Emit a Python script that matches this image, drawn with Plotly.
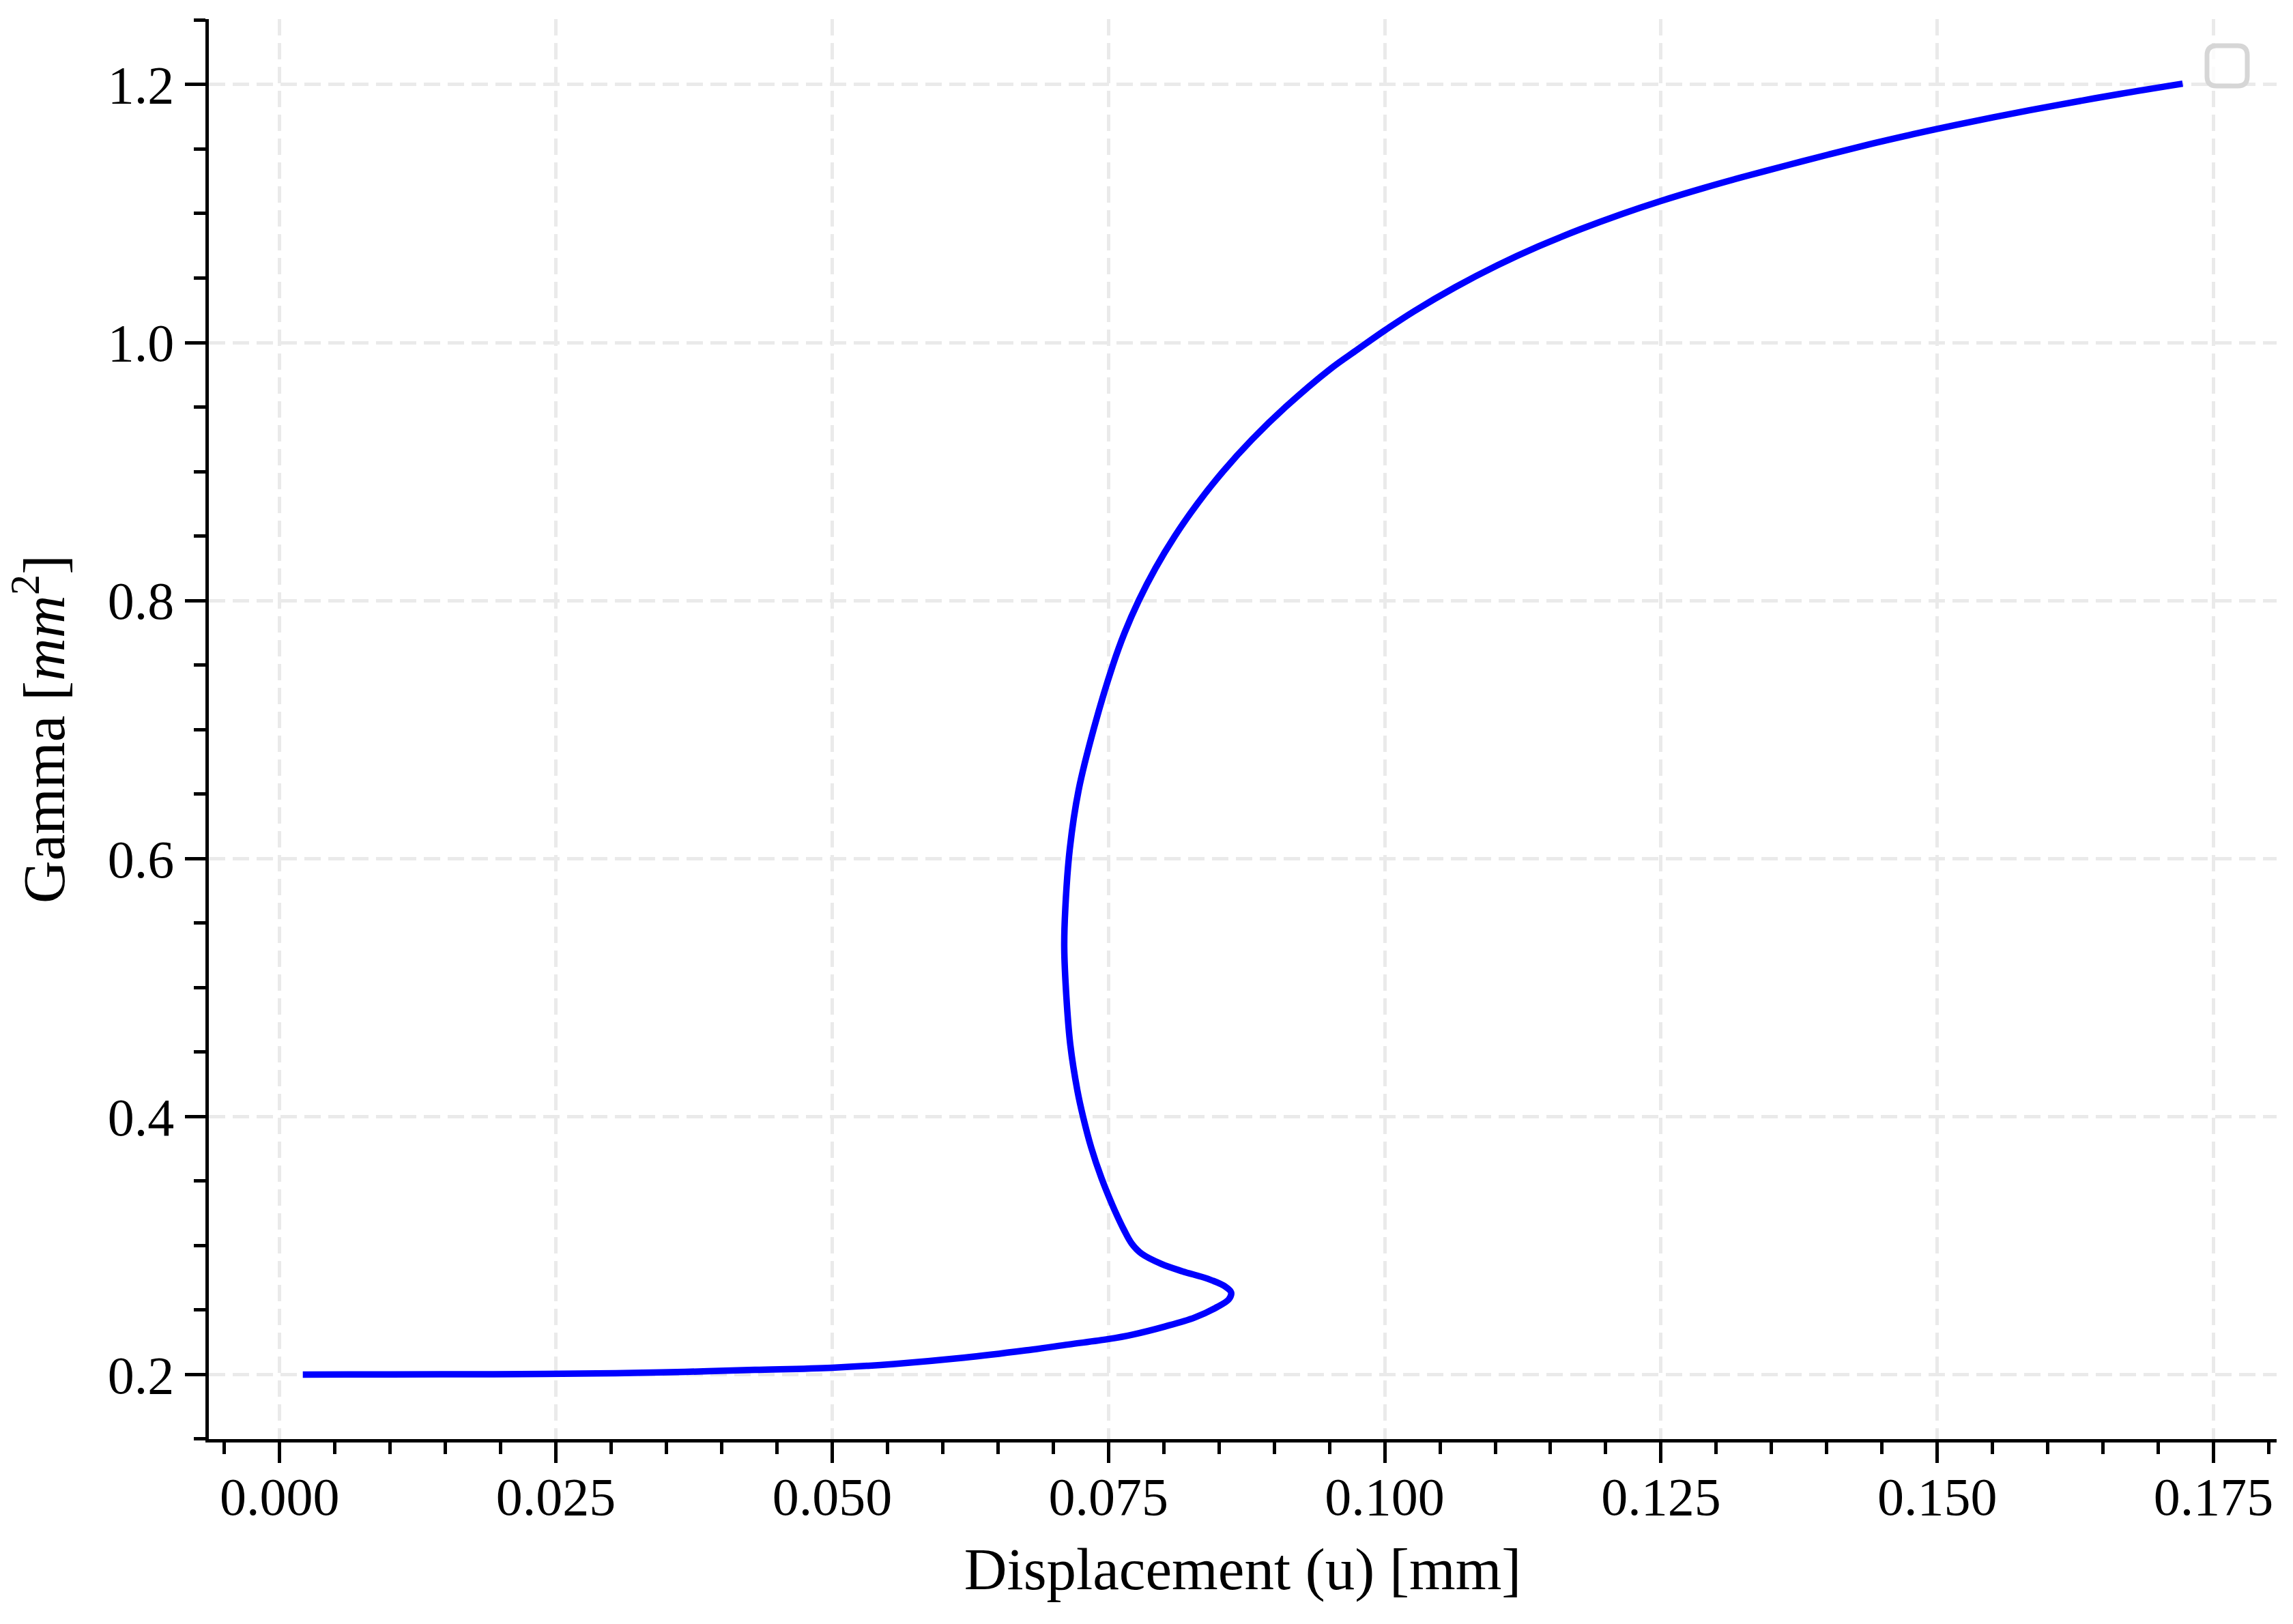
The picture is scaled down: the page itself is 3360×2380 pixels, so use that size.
import plotly.graph_objects as go

# Data (Displacement u [mm] vs Gamma [mm^2])
u_mm = [0.0021, 0.0100, 0.0170, 0.0240, 0.0304, 0.0367, 0.0430, 0.0500,
        0.0556, 0.0619, 0.0675, 0.0714, 0.0750, 0.0772, 0.0801, 0.0828,
        0.0848, 0.0859, 0.0861, 0.0856, 0.0840, 0.0817, 0.0798, 0.0780,
        0.0771, 0.0764, 0.07535, 0.07435, 0.07345, 0.0727, 0.0722, 0.07155,
        0.0712, 0.0710, 0.0711, 0.0715, 0.0723, 0.0737, 0.0754, 0.07646,
        0.07774, 0.07925, 0.08101, 0.08304, 0.08536, 0.08801, 0.09102, 0.0951,
        0.0975, 0.1000, 0.1027, 0.1064, 0.1102, 0.1139, 0.1177, 0.1214,
        0.1250, 0.1289, 0.1326, 0.1364, 0.1401, 0.1450, 0.1500, 0.1550,
        0.1610, 0.1665, 0.1722]
gamma_mm2 = [0.2000, 0.2001, 0.2002, 0.2005, 0.2010, 0.2021, 0.2036, 0.2053,
             0.2082, 0.2130, 0.2187, 0.2233, 0.2275, 0.2310, 0.2372, 0.2442,
             0.2522, 0.2584, 0.2637, 0.2680, 0.2742, 0.2800, 0.2857, 0.2937,
             0.3016, 0.3122, 0.3315, 0.3527, 0.3757, 0.4000, 0.4197, 0.4555,
             0.4920, 0.5314, 0.5618, 0.6074, 0.6530, 0.7015, 0.7500, 0.7750,
             0.8000, 0.8250, 0.8500, 0.8750, 0.9000, 0.9250, 0.9500, 0.9797,
             0.9944, 1.0094, 1.0245, 1.0430, 1.0599, 1.0745, 1.0878, 1.0995,
             1.1098, 1.1199, 1.1288, 1.1374, 1.1456, 1.1560, 1.1656, 1.1745,
             1.1843, 1.1927, 1.2007]

x_ticks = [0.000, 0.025, 0.050, 0.075, 0.100, 0.125, 0.150, 0.175]
x_ticklabels = ["0.000", "0.025", "0.050", "0.075", "0.100", "0.125", "0.150", "0.175"]
y_ticks = [0.2, 0.4, 0.6, 0.8, 1.0, 1.2]
y_ticklabels = ["0.2", "0.4", "0.6", "0.8", "1.0", "1.2"]

x_title = "Displacement (u) [mm]"
y_title = "Gamma [<i>mm</i><sup>2</sup>]"

W, H = 3360, 2380
ML, MR, MT, MB = 306, 24, 28, 271
FONT = "Liberation Serif"


def padded(vals, frac=0.05):
    lo, hi = min(vals), max(vals)
    d = (hi - lo) * frac
    return [lo - d, hi + d]


fig = go.Figure()
fig.add_trace(go.Scatter(
    x=u_mm, y=gamma_mm2, mode="lines",
    line=dict(color="#0000ff", width=9.5, shape="spline", smoothing=1.0),
    showlegend=False, hoverinfo="skip",
))

axis_common = dict(
    showline=True, linecolor="black", linewidth=5.4, mirror=False,
    ticks="outside", ticklen=30, tickwidth=5.4, tickcolor="black",
    showgrid=True, gridcolor="#eaeaea", gridwidth=5, griddash="24px,11px",
    zeroline=False,
    tickfont=dict(family=FONT, size=78, color="black"),
    automargin=False,
)

fig.update_xaxes(
    **axis_common,
    range=padded(u_mm),
    tickmode="array", tickvals=x_ticks, ticktext=x_ticklabels,
    ticklabelstandoff=-18,
    minor=dict(dtick=0.005, tick0=0, ticks="outside", ticklen=17, tickwidth=4.5,
               tickcolor="black", showgrid=False),
    title=dict(text=x_title, font=dict(family=FONT, size=87, color="black"), standoff=34),
)
fig.update_yaxes(
    **axis_common,
    range=padded(gamma_mm2),
    tickmode="array", tickvals=y_ticks, ticktext=y_ticklabels,
    minor=dict(dtick=0.05, tick0=0, ticks="outside", ticklen=17, tickwidth=4.5,
               tickcolor="black", showgrid=False),
    title=dict(text=y_title, font=dict(family=FONT, size=87, color="black"), standoff=36),
)

# empty legend frame (top-right), as in the reference
pw, ph = W - ML - MR, H - MT - MB
x0, x1 = (3234 - ML) / pw, (3293 - ML) / pw
y1, y0 = (H - MB - 67) / ph, (H - MB - 126) / ph
rx, ry = 14 / pw, 14 / ph
path = (f"M {x0+rx},{y0} L {x1-rx},{y0} Q {x1},{y0} {x1},{y0+ry} "
        f"L {x1},{y1-ry} Q {x1},{y1} {x1-rx},{y1} L {x0+rx},{y1} "
        f"Q {x0},{y1} {x0},{y1-ry} L {x0},{y0+ry} Q {x0},{y0} {x0+rx},{y0} Z")
fig.add_shape(type="path", path=path, xref="paper", yref="paper",
              line=dict(color="#d6d6d6", width=7), fillcolor="rgba(255,255,255,0.8)")

fig.update_layout(
    width=W, height=H, autosize=False,
    margin=dict(l=ML, r=MR, t=MT, b=MB, pad=0),
    paper_bgcolor="white", plot_bgcolor="white",
    font=dict(family=FONT, color="black"),
    showlegend=False,
)

fig.write_html("out.html", config={"displayModeBar": False},
               post_script="document.body.style.margin='0';")
